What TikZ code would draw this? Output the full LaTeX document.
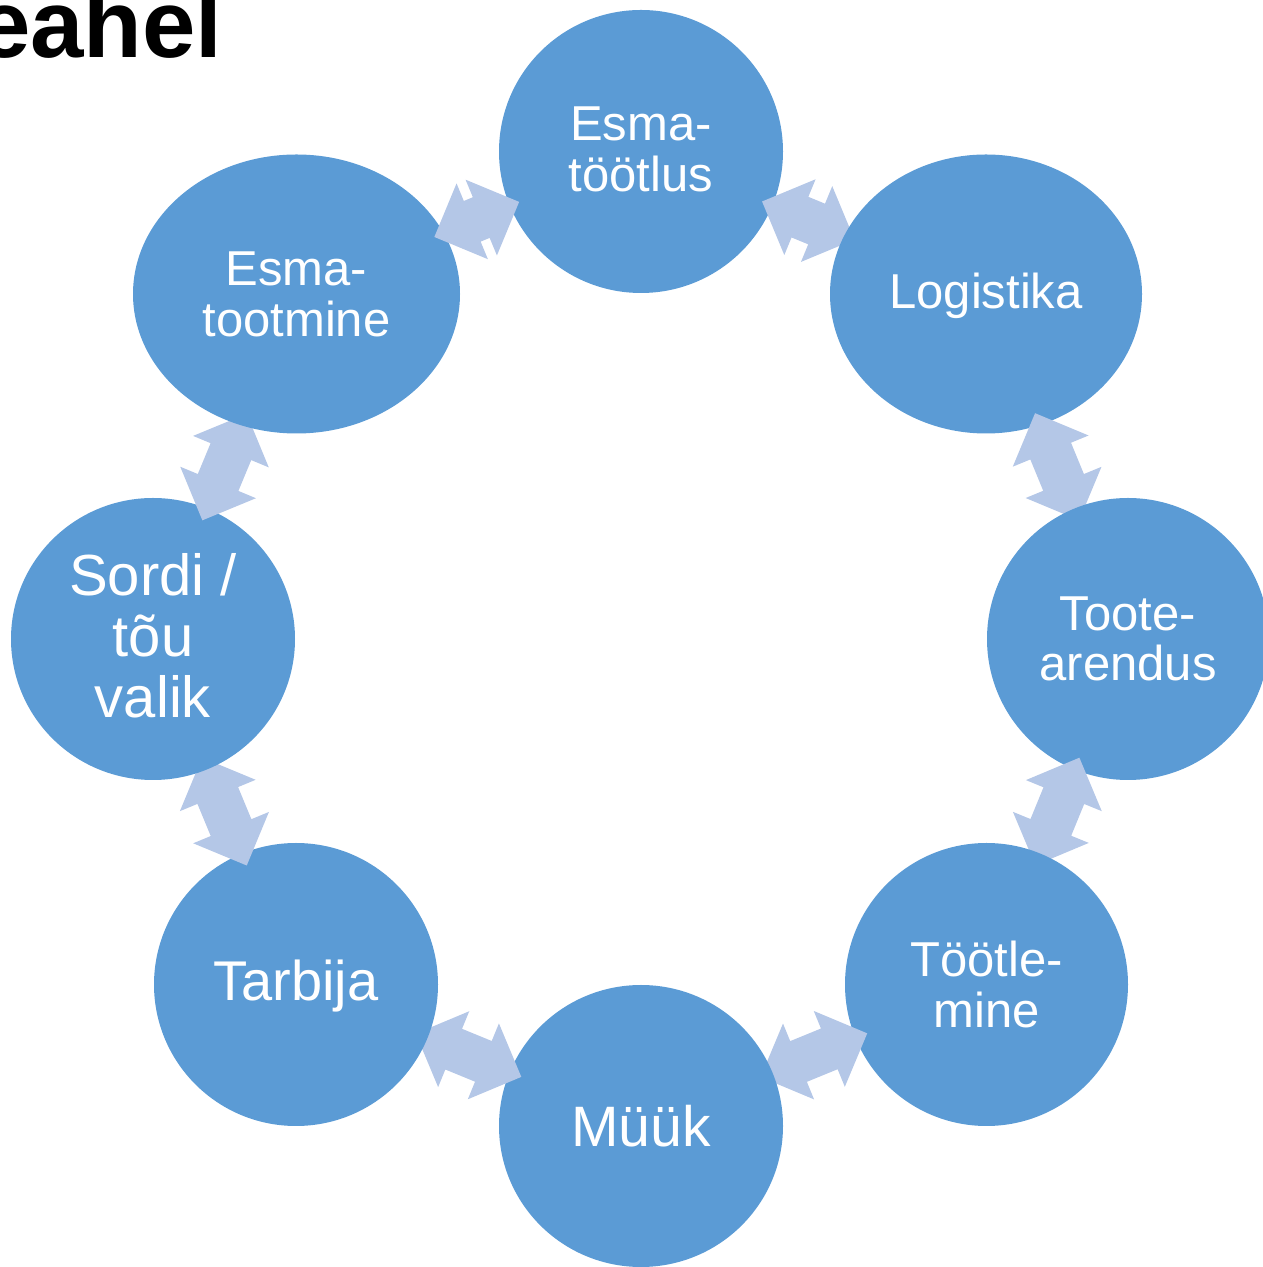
\documentclass[tikz,border=0pt]{standalone}
\usepackage{fontspec}
\setmainfont{Liberation Sans}
\usetikzlibrary{shapes.geometric,calc}
\definecolor{bubcol}{HTML}{5B9BD5}
\definecolor{arrcol}{HTML}{B4C7E7}
\newcommand\fs[2]{\fontsize{#1}{#2}\selectfont}
\tikzset{
  shp/.style={ellipse, inner sep=0pt, outer sep=0pt},
  bub/.style={fill=bubcol},
  arrfill/.style={fill=arrcol},
  lbl/.style={text=white, align=center, inner sep=0pt},
}
\newcommand\bubfill[1]{\fill[bub] let \p1=($(#1.east)-(#1.center)$), \p2=($(#1.north)-(#1.center)$) in (#1.center) ellipse [x radius=\x1, y radius=\y2];}
\newcommand\dblarr[2]{%
  \path (#1) -- coordinate[pos=0] (as) coordinate[pos=1] (ae) coordinate[pos=0.5] (am) (#2);
  \pgfmathanglebetweenpoints{\pgfpointanchor{as}{center}}{\pgfpointanchor{ae}{center}}%
  \let\arrang\pgfmathresult
  \begin{scope}[shift={(am)}, rotate=\arrang]
    \fill[arrfill] let \p1=(as), \p2=(ae), \n1={0.64*veclen(\x2-\x1,\y2-\y1)} in
      (-\n1,0pt) -- (-\n1+41pt,41pt) -- (-\n1+41pt,22pt) -- (\n1-41pt,22pt) -- (\n1-41pt,41pt)
      -- (\n1,0pt) -- (\n1-41pt,-41pt) -- (\n1-41pt,-22pt) -- (-\n1+41pt,-22pt) -- (-\n1+41pt,-41pt) -- cycle;
  \end{scope}}
\begin{document}
\begin{tikzpicture}[x=1pt,y=1pt]
\useasboundingbox (0,0) rectangle (1262,1267);
% shapes (positions and sizes)
\path
  node[shp, minimum width=284pt, minimum height=283pt] (n1) at (641,1115.5) {}
  node[shp, minimum width=312pt, minimum height=279pt] (n2) at (986,973) {}
  node[shp, minimum width=282pt, minimum height=282pt] (n3) at (1128,628) {}
  node[shp, minimum width=283pt, minimum height=283pt] (n4) at (986.5,282.5) {}
  node[shp, minimum width=284pt, minimum height=282pt] (n5) at (641,141) {}
  node[shp, minimum width=284pt, minimum height=283pt] (n6) at (296,282.5) {}
  node[shp, minimum width=284pt, minimum height=282pt] (n7) at (153,628) {}
  node[shp, minimum width=327pt, minimum height=279pt] (n8) at (296.5,973) {};
% title
\node[anchor=base west, inner sep=0pt, font=\bfseries\fs{96}{100}] (title) at (-23,1209) {eahel};
% drawing order as in the cycle
\bubfill{n1}
\node[lbl, font=\fs{49}{51}] (t1) at ($(n1)+(0,2)$) {Esma-\\töötlus};
\dblarr{n1}{n2}
\bubfill{n2}
\node[lbl, font=\fs{49}{51}] (t2) at ($(n2)+(0,-2)$) {Logistika};
\dblarr{n2}{n3}
\bubfill{n3}
\node[lbl, font=\fs{49}{50}] (t3) at (n3) {Toote-\\arendus};
\dblarr{n3}{n4}
\bubfill{n4}
\node[lbl, font=\fs{49}{51}] (t4) at (n4) {Töötle-\\mine};
\dblarr{n4}{n5}
\bubfill{n5}
\node[lbl, font=\fs{57}{60}] (t5) at (n5) {Müük};
\dblarr{n5}{n6}
\bubfill{n6}
\node[lbl, font=\fs{56}{60}] (t6) at ($(n6)+(0,-2)$) {Tarbija};
\dblarr{n6}{n7}
\bubfill{n7}
\node[lbl, font=\fs{58}{61}] (t7) at ($(n7)+(0,3)$) {Sordi /\\tõu\\valik};
\dblarr{n7}{n8}
\bubfill{n8}
\node[lbl, font=\fs{49}{51}] (t8) at (n8) {Esma-\\tootmine};
\dblarr{n8}{n1}
\end{tikzpicture}
\end{document}
